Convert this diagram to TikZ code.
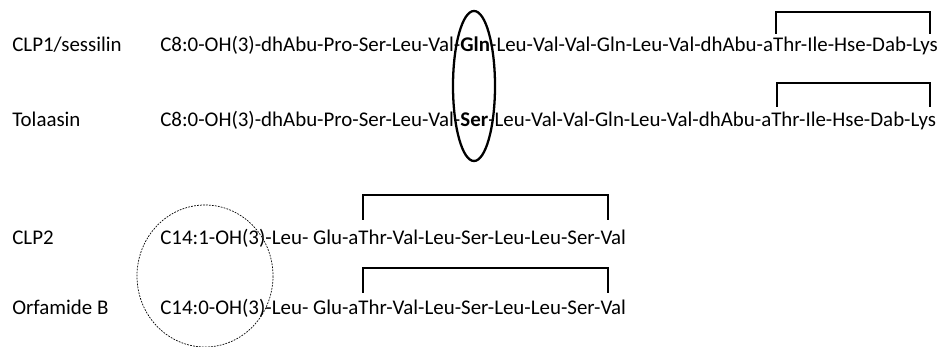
\documentclass[tikz,border=0pt]{standalone}
\usepackage{fontspec}
\setmainfont{Carlito}
\usetikzlibrary{positioning}

\begin{document}
\begin{tikzpicture}[x=0.02cm, y=-0.02cm,
    every node/.style={inner sep=0pt, font=\fontsize{11.9}{14}\selectfont},
    tag/.style={anchor=base west},
    seq/.style={anchor=base west},
    ring/.style={line width=1.3pt}]
      \useasboundingbox (0,0) rectangle (940,347);

      % Nomi
      \node[tag] (n1) at (12,52) {CLP1/sessilin};
      \node[tag] (n2) at (12,127) {Tolaasin};
      \node[tag] (n3) at (12,245) {CLP2};
      \node[tag] (n4) at (12,315) {Orfamide B};

      % Sequenze
      \node[seq] (s1) at (160,52) {C8:0-OH(3)-dhAbu-Pro-Ser-Leu-Val-\textbf{Gln}-Leu-Val-Val-Gln-Leu-Val-dhAbu-aThr-Ile-Hse-Dab-Lys};
      \node[seq] (s2) at (160,127) {C8:0-OH(3)-dhAbu-Pro-Ser-Leu-Val-\textbf{Ser}-Leu-Val-Val-Gln-Leu-Val-dhAbu-aThr-Ile-Hse-Dab-Lys};
      \node[seq] (s3) at (160,245) {C14:1-OH(3)-Leu- Glu-aThr-Val-Leu-Ser-Leu-Leu-Ser-Val};
      \node[seq] (s4) at (160,315) {C14:0-OH(3)-Leu- Glu-aThr-Val-Leu-Ser-Leu-Leu-Ser-Val};

      % Anelli
      \coordinate (a1) at (776,34);  \coordinate (b1) at (930,34);
      \coordinate (a2) at (777,107); \coordinate (b2) at (930,107);
      \coordinate (a3) at (363,220); \coordinate (b3) at (608,220);
      \coordinate (a4) at (363,293); \coordinate (b4) at (608,293);
      \draw[ring] (a1) -- ++(0,-22) -| (b1);
      \draw[ring] (a2) -- ++(0,-24) -| (b2);
      \draw[ring] (a3) -- ++(0,-25) -| (b3);
      \draw[ring] (a4) -- ++(0,-25) -| (b4);

      % Differenze
      \draw[line width=1.3pt] (474,86) ellipse [x radius=21, y radius=75];
      \draw[line width=0.4pt, dash pattern=on 1pt off 0.7pt] (205,276) ellipse [x radius=68, y radius=71];
    \end{tikzpicture}
\end{document}
